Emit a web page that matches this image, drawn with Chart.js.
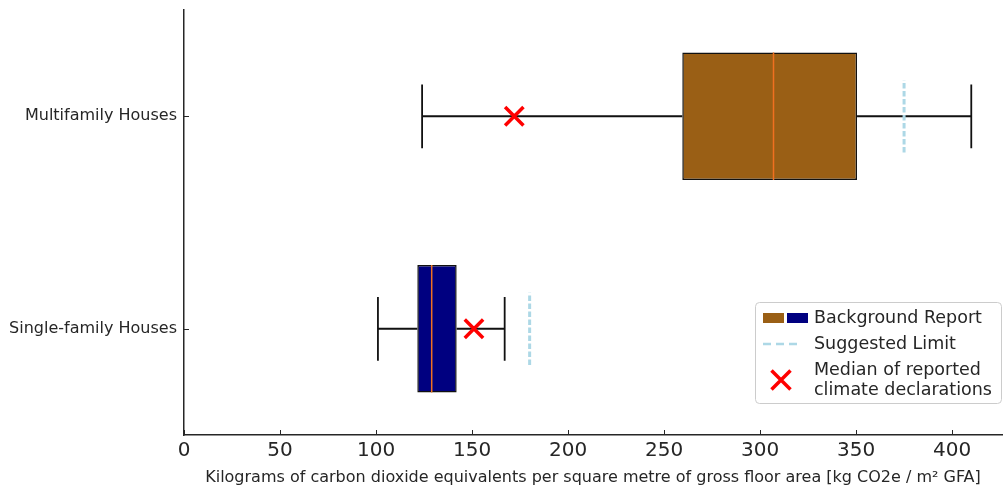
<!DOCTYPE html>
<html>
<head>
<meta charset="utf-8">
<script src="https://cdn.jsdelivr.net/npm/chart.js@4.4.1/dist/chart.umd.min.js"></script>
<style>
  html, body { margin: 0; padding: 0; background: #fff; }
  #wrap { width: 1004px; height: 490px; }
</style>
</head>
<body>
<div id="wrap"><canvas id="chart" width="1004" height="490"></canvas></div>
<script>
// box plot values (kg CO2e / m² GFA)
const categories = ['Multifamily Houses', 'Single-family Houses'];
const positions = [2, 1];
const whiskerLow = [124, 101];
const boxLow = [259.5, 121.5];
const medians = [307, 129];
const boxHigh = [350.5, 142];
const whiskerHigh = [410, 167];
const declarationMedians = [172, 151];
const suggestedLimits = [375, 180];
const boxColors = ['#9a5f15', '#000080'];
const xTicks = [0, 50, 100, 150, 200, 250, 300, 350, 400];

const legendLabels = ['Background Report', 'Suggested Limit', ['Median of reported', 'climate declarations']];

const BOX_HALF = 0.3;
const CAP_HALF = 0.15;
const LIMIT_HALF = 0.17;
const BREAK = {x: null, y: null};

// segments
const medianPts = [];
const whiskerPts = [];
const limitPts = [];
positions.forEach((p, i) => {
    medianPts.push({x: medians[i], y: p - BOX_HALF}, {x: medians[i], y: p + BOX_HALF}, BREAK);
    whiskerPts.push({x: whiskerLow[i], y: p}, {x: boxLow[i], y: p}, BREAK);
    whiskerPts.push({x: boxHigh[i], y: p}, {x: whiskerHigh[i], y: p}, BREAK);
    whiskerPts.push({x: whiskerLow[i], y: p - CAP_HALF}, {x: whiskerLow[i], y: p + CAP_HALF}, BREAK);
    whiskerPts.push({x: whiskerHigh[i], y: p - CAP_HALF}, {x: whiskerHigh[i], y: p + CAP_HALF}, BREAK);
    limitPts.push({x: suggestedLimits[i], y: p - LIMIT_HALF}, {x: suggestedLimits[i], y: p + LIMIT_HALF}, BREAK);
});

Chart.defaults.font.family = "'DejaVu Sans', sans-serif";
Chart.defaults.color = '#262626';

// matplotlib style ticks pointing into the plot
const inwardTicks = {
    id: 'inwardTicks',
    afterDraw(chart) {
        const {ctx, chartArea, scales} = chart;
        ctx.save();
        ctx.strokeStyle = '#262626';
        ctx.lineWidth = 1;
        ctx.beginPath();
        scales.x.ticks.forEach(t => {
            const px = Math.round(scales.x.getPixelForValue(t.value)) + 0.5;
            ctx.moveTo(px, chartArea.bottom);
            ctx.lineTo(px, chartArea.bottom - 5);
        });
        scales.y.ticks.forEach(t => {
            const py = Math.round(scales.y.getPixelForValue(t.value)) + 0.5;
            ctx.moveTo(chartArea.left, py);
            ctx.lineTo(chartArea.left + 5, py);
        });
        ctx.stroke();
        ctx.restore();
    }
};

// legend with two patches on one row, drawn by hand
const legendBox = {
    id: 'legendBox',
    afterDraw(chart) {
        const ctx = chart.ctx;
        const area = chart.chartArea;
        const w = 246, h = 101;
        const x0 = area.right - 1 - w;
        const y0 = area.bottom - 32 - h;
        ctx.save();
        ctx.beginPath();
        ctx.roundRect(x0 + 0.5, y0 + 0.5, w, h, 4);
        ctx.fillStyle = 'rgba(255,255,255,0.8)';
        ctx.fill();
        ctx.strokeStyle = '#cccccc';
        ctx.lineWidth = 1;
        ctx.stroke();

        ctx.fillStyle = boxColors[0];
        ctx.fillRect(x0 + 8, y0 + 11, 21, 10);
        ctx.fillStyle = boxColors[1];
        ctx.fillRect(x0 + 32, y0 + 11, 21, 10);

        ctx.strokeStyle = '#add8e6';
        ctx.lineWidth = 2.5;
        ctx.setLineDash([8, 5]);
        ctx.beginPath();
        ctx.moveTo(x0 + 8, y0 + 42);
        ctx.lineTo(x0 + 46, y0 + 42);
        ctx.stroke();
        ctx.setLineDash([]);

        ctx.strokeStyle = '#ff0000';
        ctx.lineWidth = 3.5;
        ctx.beginPath();
        const cx = x0 + 26, cy = y0 + 78, r = 9.5;
        ctx.moveTo(cx - r, cy - r); ctx.lineTo(cx + r, cy + r);
        ctx.moveTo(cx - r, cy + r); ctx.lineTo(cx + r, cy - r);
        ctx.stroke();

        ctx.fillStyle = '#262626';
        ctx.font = "17.5px 'DejaVu Sans'";
        ctx.textBaseline = 'middle';
        ctx.textAlign = 'left';
        ctx.fillText(legendLabels[0], x0 + 59, y0 + 16);
        ctx.fillText(legendLabels[1], x0 + 59, y0 + 42);
        ctx.fillText(legendLabels[2][0], x0 + 59, y0 + 68);
        ctx.fillText(legendLabels[2][1], x0 + 59, y0 + 88);
        ctx.restore();
    }
};

const ctx = document.getElementById('chart').getContext('2d');
const chart = new Chart(ctx, {
    type: 'bar',
    data: {
        datasets: [
            {
                label: 'Background Report',
                data: positions.map((p, i) => ({x: [boxLow[i], boxHigh[i]], y: p})),
                backgroundColor: boxColors,
                borderColor: '#111111',
                borderWidth: 1.5,
                borderSkipped: false,
                categoryPercentage: 1,
                barPercentage: 0.6,
                order: 4
            },
            {
                type: 'line',
                label: 'whiskers',
                data: whiskerPts,
                borderColor: '#111111',
                borderWidth: 1.8,
                pointRadius: 0,
                spanGaps: false,
                order: 5
            },
            {
                type: 'line',
                label: 'medians',
                data: medianPts,
                borderColor: '#f07020',
                borderWidth: 1.5,
                pointRadius: 0,
                spanGaps: false,
                order: 2
            },
            {
                type: 'line',
                label: 'Suggested Limit',
                data: limitPts,
                borderColor: '#add8e6',
                borderWidth: 3,
                borderDash: [5.5, 2.5],
                pointRadius: 0,
                spanGaps: false,
                order: 1
            },
            {
                type: 'line',
                label: 'Median of reported climate declarations',
                data: positions.map((p, i) => ({x: declarationMedians[i], y: p})),
                showLine: false,
                pointStyle: 'crossRot',
                pointRadius: 13,
                borderColor: '#ff0000',
                borderWidth: 3.5,
                order: 0
            }
        ]
    },
    options: {
        indexAxis: 'y',
        responsive: false,
        animation: false,
        devicePixelRatio: 1,
        layout: { autoPadding: false, padding: { left: 0, top: 10, right: 2, bottom: 0 } },
        plugins: {
            legend: { display: false },
            tooltip: { enabled: false }
        },
        scales: {
            x: {
                type: 'linear',
                min: 0,
                max: 426,
                offset: false,
                afterBuildTicks: (scale) => { scale.ticks = xTicks.map(v => ({value: v})); },
                afterFit: (scale) => { scale.height = 55; scale.paddingLeft = 0; scale.paddingRight = 0; },
                grid: { display: true, drawOnChartArea: false, drawTicks: false },
                border: { display: true, color: '#262626', width: 1.5 },
                ticks: { font: { size: 20 }, padding: 4, color: '#262626' },
                title: {
                    display: true,
                    text: 'Kilograms of carbon dioxide equivalents per square metre of gross floor area [kg CO2e / m² GFA]',
                    font: { size: 16 },
                    padding: { top: 0, bottom: 3 },
                    color: '#262626'
                }
            },
            y: {
                type: 'linear',
                min: 0.5,
                max: 2.5,
                offset: false,
                afterBuildTicks: (scale) => { scale.ticks = positions.map(v => ({value: v})); },
                afterFit: (scale) => { scale.width = 184; scale.paddingTop = 0; scale.paddingBottom = 0; },
                grid: { display: true, drawOnChartArea: false, drawTicks: false },
                border: { display: true, color: '#262626', width: 1.5 },
                ticks: {
                    font: { size: 16 },
                    padding: 7,
                    color: '#262626',
                    callback: (v) => categories[positions.indexOf(v)]
                }
            }
        }
    },
    plugins: [inwardTicks, legendBox]
});
</script>
</body>
</html>
